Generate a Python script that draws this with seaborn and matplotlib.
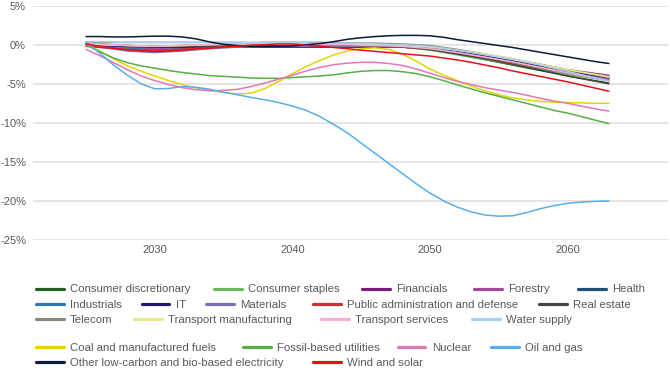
import matplotlib
matplotlib.use('Agg')
import matplotlib.pyplot as plt
from matplotlib.lines import Line2D
from matplotlib.ticker import FuncFormatter
import pandas as pd
import seaborn as sns

# Change vs. baseline (%)
years = [2025, 2026, 2028, 2030, 2032, 2034, 2036, 2038, 2040, 2042,
         2044, 2046, 2048, 2050, 2052, 2054, 2056, 2058, 2060, 2063]
years_annual = list(range(2025, 2064))

# sectors (coarse grid)
consumer_discretionary = [0.1, 0.0, -0.2, -0.3, -0.2, -0.1, 0.0, 0.0, 0.0, -0.1,
                          -0.1, -0.2, -0.3, -0.6, -1.2, -1.9, -2.6, -3.3, -4.0, -4.9]
consumer_staples = [0.2, 0.0, -0.4, -0.6, -0.4, -0.2, 0.0, 0.0, 0.0, 0.0,
                    -0.1, -0.2, -0.3, -0.7, -1.3, -1.9, -2.5, -3.1, -3.8, -4.6]
financials = [0.0, -0.2, -0.6, -0.9, -0.7, -0.4, -0.2, -0.1, 0.0, 0.1,
              0.1, 0.0, -0.1, -0.4, -0.8, -1.4, -2.0, -2.6, -3.3, -4.0]
forestry = [0.1, 0.0, -0.3, -0.5, -0.3, 0.0, 0.2, 0.3, 0.3, 0.3,
            0.2, 0.1, 0.0, -0.3, -0.7, -1.3, -1.9, -2.5, -3.2, -3.9]
health = [0.2, 0.1, -0.1, -0.2, -0.1, 0.0, 0.0, -0.1, -0.1, -0.1,
          -0.1, -0.1, -0.2, -0.4, -0.8, -1.4, -2.0, -2.7, -3.4, -4.2]
industrials = [0.3, 0.1, -0.4, -0.7, -0.5, -0.2, 0.0, 0.0, 0.0, 0.0,
               0.0, -0.1, -0.2, -0.5, -1.0, -1.6, -2.2, -2.9, -3.6, -4.5]
it = [0.0, -0.1, -0.2, -0.3, -0.3, -0.3, -0.3, -0.3, -0.3, -0.3,
      -0.3, -0.3, -0.3, -0.5, -0.9, -1.4, -2.0, -2.7, -3.4, -4.3]
materials = [0.0, -0.3, -0.8, -1.0, -0.8, -0.5, -0.3, -0.2, -0.2, -0.2,
             -0.2, -0.2, -0.3, -0.5, -1.0, -1.6, -2.2, -2.9, -3.6, -4.4]
public_admin = [-0.2, -0.35, -0.6, -0.75, -0.55, -0.35, -0.15, 0.0, 0.05, 0.0,
                -0.05, -0.15, -0.3, -0.6, -1.1, -1.7, -2.3, -2.9, -3.6, -4.6]
real_estate = [0.0, 0.0, -0.1, -0.2, -0.2, -0.1, 0.0, 0.0, 0.0, 0.0,
               0.0, -0.1, -0.2, -0.6, -1.2, -1.8, -2.5, -3.2, -4.0, -5.0]
telecom = [0.3, 0.3, 0.3, 0.3, 0.3, 0.3, 0.3, 0.2, 0.2, 0.2,
           0.2, 0.2, 0.1, -0.1, -0.6, -1.2, -1.8, -2.5, -3.2, -4.2]
transport_manufacturing = [0.1, 0.0, -0.1, -0.2, -0.1, 0.0, 0.1, 0.1, 0.1, 0.1,
                           0.1, 0.0, -0.1, -0.3, -0.7, -1.2, -1.8, -2.5, -3.2, -4.1]
transport_services = [0.2, 0.1, -0.1, -0.2, -0.1, 0.0, 0.1, 0.1, 0.0, 0.0,
                      0.0, -0.1, -0.2, -0.5, -1.0, -1.6, -2.2, -2.9, -3.6, -4.6]
water_supply = [0.4, 0.4, 0.3, 0.3, 0.3, 0.3, 0.3, 0.3, 0.3, 0.2,
                0.2, 0.1, 0.0, -0.2, -0.7, -1.3, -1.9, -2.6, -3.4, -4.7]

# energy (annual grid, 2025..2063)
coal = [0.0, -0.8, -1.8, -2.7, -3.4, -4.0, -4.6, -5.1, -5.5, -5.85,
        -6.1, -6.3, -6.2, -5.6, -4.7, -3.7, -2.8, -2.0, -1.3, -0.8,
        -0.5, -0.4, -0.6, -1.2, -2.1, -3.1, -3.9, -4.6, -5.3, -5.9,
        -6.4, -6.8, -7.05, -7.25, -7.35, -7.4, -7.45, -7.5, -7.5]
fossil_utilities = [0.0, -0.9, -1.7, -2.3, -2.7, -3.0, -3.3, -3.55, -3.75, -3.95,
                    -4.05, -4.15, -4.25, -4.3, -4.3, -4.2, -4.1, -4.0, -3.85, -3.6,
                    -3.4, -3.3, -3.3, -3.45, -3.7, -4.1, -4.6, -5.15, -5.65, -6.15,
                    -6.6, -7.05, -7.5, -7.95, -8.4, -8.75, -9.2, -9.65, -10.1]
nuclear = [-0.6, -1.4, -2.3, -3.2, -4.0, -4.6, -5.1, -5.5, -5.75, -5.9,
           -5.85, -5.7, -5.35, -4.9, -4.4, -3.9, -3.35, -2.9, -2.55, -2.35,
           -2.25, -2.25, -2.4, -2.65, -3.1, -3.65, -4.2, -4.7, -5.1, -5.5,
           -5.8, -6.1, -6.45, -6.85, -7.2, -7.5, -7.85, -8.2, -8.5]
oil_and_gas = [0.3, -1.1, -2.6, -3.9, -5.0, -5.65, -5.6, -5.35, -5.45, -5.7,
               -6.1, -6.4, -6.75, -7.05, -7.4, -7.85, -8.4, -9.2, -10.2, -11.3,
               -12.6, -13.9, -15.2, -16.5, -17.8, -19.0, -20.0, -20.8, -21.4, -21.8,
               -21.95, -21.9, -21.5, -21.0, -20.6, -20.3, -20.15, -20.05, -20.0]
other_low_carbon = [1.05, 1.05, 1.0, 1.0, 1.05, 1.1, 1.1, 1.0, 0.75, 0.35,
                    0.05, -0.1, -0.2, -0.2, -0.2, -0.15, 0.0, 0.15, 0.4, 0.7,
                    0.9, 1.05, 1.15, 1.2, 1.2, 1.15, 0.95, 0.65, 0.4, 0.15,
                    -0.1, -0.35, -0.65, -0.95, -1.25, -1.55, -1.85, -2.15, -2.4]
wind_solar = [0.1, -0.2, -0.45, -0.65, -0.8, -0.85, -0.8, -0.7, -0.55, -0.45,
              -0.3, -0.2, -0.05, 0.0, 0.1, 0.1, -0.05, -0.2, -0.35, -0.5,
              -0.7, -0.85, -1.0, -1.15, -1.3, -1.45, -1.7, -1.95, -2.25, -2.6,
              -2.95, -3.35, -3.7, -4.05, -4.4, -4.75, -5.15, -5.55, -5.95]

series = {
    'Consumer discretionary': (years, consumer_discretionary, '#215E21'),
    'Consumer staples': (years, consumer_staples, '#6DB85A'),
    'Financials': (years, financials, '#7A1C7A'),
    'Forestry': (years, forestry, '#A3489E'),
    'Health': (years, health, '#1F4E79'),
    'Industrials': (years, industrials, '#2E75B6'),
    'IT': (years, it, '#231A6B'),
    'Materials': (years, materials, '#7F6FB5'),
    'Public administration and defense': (years, public_admin, '#C83232'),
    'Real estate': (years, real_estate, '#4A4540'),
    'Telecom': (years, telecom, '#8C877C'),
    'Transport manufacturing': (years, transport_manufacturing, '#EDE98A'),
    'Transport services': (years, transport_services, '#F2B2D5'),
    'Water supply': (years, water_supply, '#A8CFF0'),
    'Coal and manufactured fuels': (years_annual, coal, '#E3D500'),
    'Fossil-based utilities': (years_annual, fossil_utilities, '#55B045'),
    'Nuclear': (years_annual, nuclear, '#E378B4'),
    'Oil and gas': (years_annual, oil_and_gas, '#5AAEE8'),
    'Other low-carbon and bio-based electricity': (years_annual, other_low_carbon, '#0B1A3D'),
    'Wind and solar': (years_annual, wind_solar, '#E3111B'),
}

df = pd.concat([pd.DataFrame({'year': yrs, 'value': vals, 'sector': name})
                for name, (yrs, vals, _) in series.items()], ignore_index=True)
palette = {name: c for name, (_, _, c) in series.items()}

sns.set_theme(style='white')
plt.rcParams['font.family'] = ['Liberation Sans', 'DejaVu Sans']

W, H = 670, 371
fig = plt.figure(figsize=(W / 100, H / 100), dpi=100)
ax = fig.add_axes([33 / W, 1 - 240 / H, (668 - 33) / W, (240 - 5.7) / H])

sns.lineplot(data=df, x='year', y='value', hue='sector', hue_order=list(series),
             palette=palette, linewidth=1.1, legend=False, ax=ax)

ax.set_xlim(2021.14, 2067.3)
ax.set_ylim(-25, 5)
ax.set_yticks(range(-25, 6, 5))
ax.set_xticks([2030, 2040, 2050, 2060])
ax.yaxis.set_major_formatter(FuncFormatter(lambda v, _: f'{v:.0f}%'))
ax.grid(axis='y', color='#E3E3E3', linewidth=1.3)
ax.grid(axis='x', visible=False)
ax.set_axisbelow(True)
for s in ax.spines.values():
    s.set_visible(False)
ax.tick_params(axis='y', length=0, pad=5, labelsize=8, labelcolor='#595959')
ax.tick_params(axis='x', length=0, pad=3.5, labelsize=8, labelcolor='#595959')
ax.set_xlabel('')
ax.set_ylabel('')

# legend laid out as in the reference: handle left edge (px), row centre (px)
legend_layout = [
    (289.5, [('Consumer discretionary', 36), ('Consumer staples', 214), ('Financials', 362),
             ('Forestry', 474), ('Health', 578)]),
    (304.5, [('Industrials', 36), ('IT', 141.5), ('Materials', 206),
             ('Public administration and defense', 313), ('Real estate', 539)]),
    (320.3, [('Telecom', 36), ('Transport manufacturing', 134), ('Transport services', 321),
             ('Water supply', 472)]),
    (347.8, [('Coal and manufactured fuels', 36), ('Fossil-based utilities', 243),
             ('Nuclear', 397.5), ('Oil and gas', 491)]),
    (363.3, [('Other low-carbon and bio-based electricity', 36), ('Wind and solar', 313)]),
]
for y, entries in legend_layout:
    for name, x in entries:
        fig.legend(handles=[Line2D([], [], color=palette[name], lw=2.3)], labels=[name],
                   loc='center left', bbox_to_anchor=(x / W, 1 - y / H),
                   frameon=False, borderpad=0, borderaxespad=0,
                   handlelength=2.45, handletextpad=0.55, fontsize=8.2,
                   labelcolor='#595959')

fig.savefig('out.png', dpi=100)
